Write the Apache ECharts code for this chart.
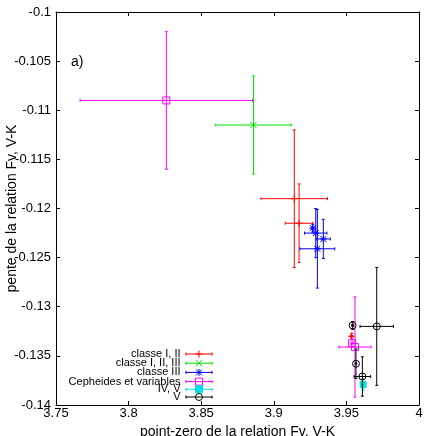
<!DOCTYPE html>
<html>
<head>
<meta charset="utf-8">
<script src="https://cdn.jsdelivr.net/npm/echarts@6/dist/echarts.min.js"></script>
<style>
  html, body { margin: 0; padding: 0; background: #fff; }
  #chart { width: 436px; height: 436px; }
</style>
</head>
<body>
<div id="chart"></div>
<script>
  // chaque point : [point-zero, pente, erreur point-zero, erreur pente]
  var classeI_II = [
    [3.9141, -0.1190, 0.0229, 0.0070],
    [3.9174, -0.1215, 0.0095, 0.0040],
    [3.9536, -0.1330, 0.0008, 0.0003]
  ];
  var classeI_II_III = [
    [3.8860, -0.1115, 0.0260, 0.0050]
  ];
  var classeIII = [
    [3.9268, -0.1220, 0.0008, 0.0004],
    [3.9289, -0.1225, 0.0077, 0.0025],
    [3.9341, -0.1231, 0.0048, 0.0020],
    [3.9300, -0.1241, 0.0120, 0.0040]
  ];
  var cepheides = [
    [3.8260, -0.1090, 0.0594, 0.0070],
    [3.9539, -0.1337, 0.0008, 0.0004],
    [3.9559, -0.1341, 0.0110, 0.0051]
  ];
  var classeIV_V = [
    [3.9615, -0.1379, 0.0004, 0.0006]
  ];
  var classeV = [
    [3.9709, -0.1320, 0.0115, 0.0060],
    [3.9543, -0.1319, 0.0006, 0.0004],
    [3.9566, -0.1358, 0.0005, 0.0015],
    [3.9610, -0.1371, 0.0057, 0.0020]
  ];

  var xTickLabels = ['3.75', '3.8', '3.85', '3.9', '3.95', '4'];
  var yTickLabels = ['-0.14', '-0.135', '-0.13', '-0.125', '-0.12', '-0.115', '-0.11', '-0.105', '-0.1'];

  var font = '"Liberation Sans", Arial, sans-serif';

  var groups = [
    { name: 'classe I, II', color: '#ff0000', symbol: 'plus', data: classeI_II },
    { name: 'classe I, II, III', color: '#00e000', symbol: 'cross', data: classeI_II_III },
    { name: 'classe III', color: '#0000ff', symbol: 'star', data: classeIII },
    { name: 'Cepheides et variables', color: '#ff00ff', symbol: 'square', data: cepheides },
    { name: 'IV, V', color: '#00e0e0', symbol: 'fsquare', data: classeIV_V },
    { name: 'V', color: '#000000', symbol: 'circle', data: classeV }
  ];

  // icones de legende : barre d'erreur + symbole
  var iconBase = 'M0,0 M27,9 M0,4.5 L27,4.5 M0.5,3 L0.5,6 M26.5,3 L26.5,6 ';
  var iconSym = {
    plus: 'M13.5,1 L13.5,8 M10,4.5 L17,4.5',
    cross: 'M10.5,1.5 L16.5,7.5 M16.5,1.5 L10.5,7.5',
    star: 'M13.5,1 L13.5,8 M10,4.5 L17,4.5 M10.5,1.5 L16.5,7.5 M16.5,1.5 L10.5,7.5',
    square: 'M10,1 L17,1 L17,8 L10,8 Z',
    fsquare: 'M10,1 L17,1 L17,8 L10,8 Z',
    circle: 'M17,4.5 A3.5,3.5 0 1 1 10,4.5 A3.5,3.5 0 1 1 17,4.5 Z'
  };

  function symbolShapes(sym, cx, cy, color) {
    var s = 3.5;
    var st = { stroke: color, lineWidth: 1, fill: null };
    function line(x1, y1, x2, y2) {
      return { type: 'line', shape: { x1: x1, y1: y1, x2: x2, y2: y2 }, style: st };
    }
    var plus = [line(cx - s, cy, cx + s, cy), line(cx, cy - s, cx, cy + s)];
    var cross = [line(cx - 3, cy - 3, cx + 3, cy + 3), line(cx + 3, cy - 3, cx - 3, cy + 3)];
    if (sym === 'plus') return plus;
    if (sym === 'cross') return cross;
    if (sym === 'star') return plus.concat(cross);
    if (sym === 'square') return [{ type: 'rect', shape: { x: cx - s, y: cy - s, width: 2 * s, height: 2 * s }, style: st }];
    if (sym === 'fsquare') return [{ type: 'rect', shape: { x: cx - s + 0.5, y: cy - s + 0.5, width: 2 * s - 1, height: 2 * s - 1 }, style: { fill: color, stroke: color } }];
    return [{ type: 'circle', shape: { cx: cx, cy: cy, r: s }, style: st }];
  }

  function makeRender(g) {
    return function (params, api) {
      var x = api.value(0), y = api.value(1), ex = api.value(2), ey = api.value(3);
      var c = api.coord([x, y]);
      var l = api.coord([x - ex, y]), r = api.coord([x + ex, y]);
      var t = api.coord([x, y + ey]), b = api.coord([x, y - ey]);
      var cap = 1.5;
      var st = { stroke: g.color, lineWidth: 1, fill: null };
      var ch = [
        { type: 'line', shape: { x1: l[0], y1: c[1], x2: r[0], y2: c[1] }, style: st },
        { type: 'line', shape: { x1: c[0], y1: t[1], x2: c[0], y2: b[1] }, style: st },
        { type: 'line', shape: { x1: l[0], y1: c[1] - cap, x2: l[0], y2: c[1] + cap }, style: st },
        { type: 'line', shape: { x1: r[0], y1: c[1] - cap, x2: r[0], y2: c[1] + cap }, style: st },
        { type: 'line', shape: { x1: c[0] - cap, y1: t[1], x2: c[0] + cap, y2: t[1] }, style: st },
        { type: 'line', shape: { x1: c[0] - cap, y1: b[1], x2: c[0] + cap, y2: b[1] }, style: st }
      ];
      return { type: 'group', children: ch.concat(symbolShapes(g.symbol, c[0], c[1], g.color)) };
    };
  }

  var series = groups.map(function (g) {
    return {
      name: g.name,
      type: 'custom',
      renderItem: makeRender(g),
      itemStyle: { color: g.color },
      encode: { x: 0, y: 1 },
      data: g.data,
      animation: false
    };
  });

  function valueAxis(pos, min, max, interval, labels, showLabel) {
    return {
      type: 'value',
      position: pos,
      min: min,
      max: max,
      interval: interval,
      axisLine: { show: true, onZero: false, lineStyle: { color: '#000', width: 1 } },
      axisTick: { show: true, inside: true, length: 4, lineStyle: { color: '#000' } },
      splitLine: { show: false },
      axisLabel: {
        show: showLabel,
        color: '#000',
        fontSize: 13,
        fontFamily: font,
        margin: (pos === 'left' ? 5 : 2),
        formatter: function (v, i) { return labels[i]; }
      }
    };
  }

  var xBottom = valueAxis('bottom', 3.75, 4, 0.05, xTickLabels, true);
  xBottom.name = 'point-zero de la relation Fv, V-K';
  xBottom.nameLocation = 'middle';
  xBottom.nameGap = 20;
  xBottom.nameMoveOverlap = false;
  xBottom.nameTextStyle = { color: '#000', fontSize: 14, fontFamily: font };

  var yLeft = valueAxis('left', -0.14, -0.1, 0.005, yTickLabels, true);
  yLeft.name = 'pente de la relation Fv, V-K';
  yLeft.nameLocation = 'middle';
  yLeft.nameGap = 37;
  yLeft.nameMoveOverlap = false;
  yLeft.nameTextStyle = { color: '#000', fontSize: 14, fontFamily: font };

  var chart = echarts.init(document.getElementById('chart'));
  chart.setOption({
    animation: false,
    grid: { left: 56, right: 17, top: 12, bottom: 31, containLabel: false, outerBoundsMode: 'none' },
    xAxis: [xBottom, valueAxis('top', 3.75, 4, 0.05, xTickLabels, false)],
    yAxis: [yLeft, valueAxis('right', -0.14, -0.1, 0.005, yTickLabels, false)],
    legend: {
      orient: 'vertical',
      right: 221,
      top: 347,
      align: 'right',
      padding: 0,
      itemWidth: 27,
      itemHeight: 9,
      itemGap: -4.8,
      selectedMode: false,
      textStyle: { color: '#000', fontSize: 11, fontFamily: font, lineHeight: 9 },
      data: groups.map(function (g) {
        return {
          name: g.name,
          icon: 'path://' + iconBase + iconSym[g.symbol],
          itemStyle: { color: g.symbol === 'fsquare' ? g.color : 'none', borderColor: g.color, borderWidth: 1 }
        };
      })
    },
    graphic: [
      { type: 'text', left: 71, top: 55, style: { text: 'a)', fontSize: 14, fontFamily: font, fill: '#000' } }
    ],
    series: series
  });
</script>
</body>
</html>
